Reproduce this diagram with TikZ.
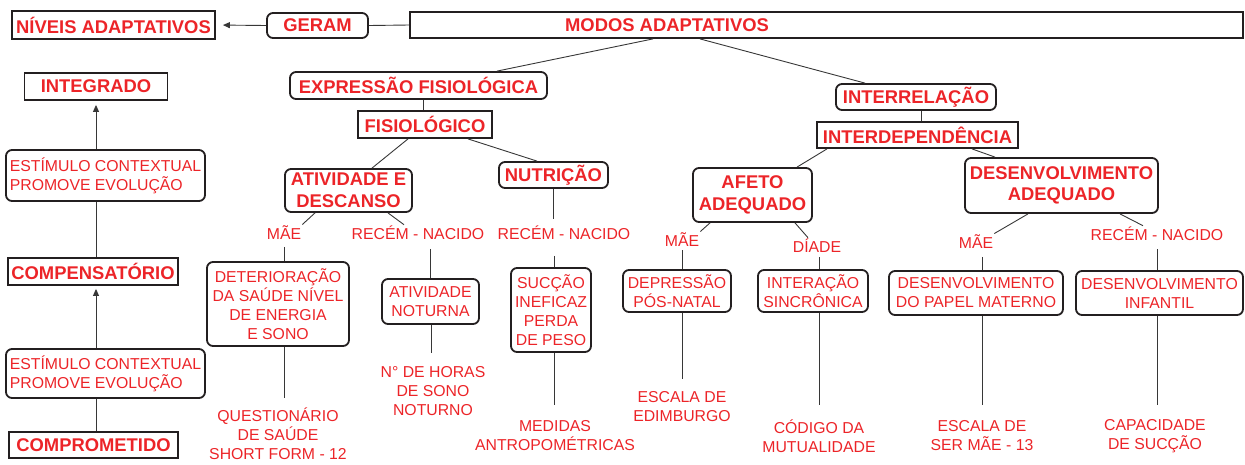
\documentclass[tikz,border=0pt]{standalone}
\usepackage{fontspec}
\setmainfont{Liberation Sans}
\usetikzlibrary{arrows.meta}
\definecolor{tred}{RGB}{236,36,40}
\definecolor{bdr}{RGB}{35,31,32}
\definecolor{lnc}{RGB}{55,55,55}
\newcommand\mybf{\fontsize{18.4}{21.5}\selectfont\bfseries}
\newcommand\mynm{\fontsize{15.8}{19}\selectfont}
\begin{document}
\begin{tikzpicture}[x=1pt,y=-1pt,
  bx/.style={draw=bdr, line width=1.8pt, inner sep=0pt, text=tred, align=center},
  sqb/.style={bx, rectangle, font=\mybf},
  rdb/.style={bx, rounded corners=6pt, font=\mybf},
  rdn/.style={bx, rounded corners=6pt, font=\mynm},
  lbl/.style={text=tred, inner sep=1pt, align=center, font=\mynm},
  con/.style={draw=lnc, line width=0.9pt},
  arr/.style={con, -{Triangle[length=7pt,width=6pt]}}]
\useasboundingbox (0,0) rectangle (1245,464);

% top row
\node[sqb, minimum width=203pt, minimum height=28pt] (niveis) at (113.5,25) {NÍVEIS ADAPTATIVOS};
\node[rdb, minimum width=101pt, minimum height=25pt] (geram) at (317.5,25.5) {GERAM};
\node[sqb, minimum width=833pt, minimum height=26pt] (modos) at (826.5,25) {};
\node[text=tred, font=\mybf, inner sep=0pt] (modost) at (667,25) {MODOS ADAPTATIVOS};
\draw[con] (modos.west) -- (geram.east);
\draw[arr, shorten >=7pt] (geram.west) -- (niveis.east);

% left column
\node[sqb, minimum width=143pt, minimum height=27pt] (integ) at (96,86.5) {INTEGRADO};
\node[rdn, align=left, minimum width=199pt, minimum height=51pt] (est1) at (105.5,175.5) {ESTÍMULO CONTEXTUAL\\PROMOVE EVOLUÇÃO};
\node[sqb, minimum width=170pt, minimum height=27pt] (comp) at (93,271.5) {COMPENSATÓRIO};
\node[rdn, align=left, minimum width=199pt, minimum height=49pt] (est2) at (105.5,373.5) {ESTÍMULO CONTEXTUAL\\PROMOVE EVOLUÇÃO};
\node[sqb, minimum width=169pt, minimum height=26pt] (compr) at (93.5,445) {COMPROMETIDO};
\draw[arr, shorten >=4pt] (est1.north -| integ.south) -- (integ.south);
\draw[con] (est1.south -| integ.south) -- (comp.north -| integ.south);
\draw[arr, shorten >=3pt] (est2.north -| integ.south) -- (comp.south -| integ.south);
\draw[con] (compr.north -| integ.south) -- (est2.south -| integ.south);

% fisiologico branch
\node[rdb, minimum width=257pt, minimum height=27pt] (expr) at (418.5,85.5) {EXPRESSÃO FISIOLÓGICA};
\node[sqb, minimum width=134pt, minimum height=27pt] (fisio) at (425,124.5) {FISIOLÓGICO};
\node[rdb, minimum width=127pt, minimum height=43pt] (ativ) at (348.5,190.5) {ATIVIDADE E\\DESCANSO};
\node[rdb, minimum width=109pt, minimum height=26pt] (nutri) at (553.5,175) {NUTRIÇÃO};
\node[lbl, anchor=base] (mae1) at (284,239.6) {MÃE};
\node[lbl, anchor=base] (rn1) at (418,239.6) {RECÉM - NACIDO};
\node[lbl, anchor=base] (rn2) at (564,239.6) {RECÉM - NACIDO};
\node[rdn, minimum width=142pt, minimum height=84pt] (deter) at (278,304) {DETERIORAÇÃO\\DA SAÚDE NÍVEL\\DE ENERGIA\\E SONO};
\node[lbl] (quest) at (278,434) {QUESTIONÁRIO\\DE SAÚDE\\SHORT FORM - 12};
\node[rdn, minimum width=97pt, minimum height=45pt] (notur) at (430.5,301.5) {ATIVIDADE\\NOTURNA};
\node[lbl] (horas) at (433,391) {N° DE HORAS\\DE SONO\\NOTURNO};
\node[rdn, minimum width=80pt, minimum height=84pt] (succ) at (551,310) {SUCÇÃO\\INEFICAZ\\PERDA\\DE PESO};
\node[lbl] (medidas) at (555,436) {MEDIDAS\\ANTROPOMÉTRICAS};
\coordinate (e1) at (284,398);
\coordinate (e2) at (431,353);
\coordinate (e3) at (554,405);

\draw[con] ([xshift=-173.5pt]modos.south) -- ([xshift=78.5pt]expr.north);
\draw[con] ([xshift=-2pt]fisio.north |- expr.south) -- ([xshift=-2pt]fisio.north);
\draw[con] ([xshift=-17pt]fisio.south) -- ([xshift=23.5pt]ativ.north);
\draw[con] ([xshift=43pt]fisio.south) -- ([xshift=-16.5pt]nutri.north);
\draw[con] ([xshift=-33.5pt]ativ.south) -- (mae1.north east);
\draw[con] ([xshift=39.5pt]ativ.south) -- ([xshift=-14pt]rn1.north);
\draw[con, shorten <=6pt] (mae1.south) -- (mae1.south |- deter.north);
\draw[con] (deter.south -| e1) -- (e1);
\draw[con, shorten <=8pt] (notur.north |- rn1.south) -- (notur.north);
\draw[con] (notur.south -| e2) -- (e2);
\draw[con, shorten >=5.6pt] (nutri.south) -- (nutri.south |- rn2.north);
\draw[con, shorten <=15pt] (e3 |- rn2.south) -- (e3 |- succ.north);
\draw[con] (succ.south -| e3) -- (e3);

% interrelacao branch
\node[rdb, minimum width=160pt, minimum height=26pt] (interrel) at (916,97) {INTERRELAÇÃO};
\node[sqb, minimum width=201pt, minimum height=26pt] (interdep) at (917.5,135) {INTERDEPENDÊNCIA};
\node[rdb, minimum width=119pt, minimum height=54pt] (afeto) at (752.5,195) {AFETO\\ADEQUADO};
\node[rdb, minimum width=193pt, minimum height=55pt] (desadeq) at (1061.5,185.5) {DESENVOLVIMENTO\\ADEQUADO};
\node[lbl, anchor=base] (mae2) at (682,246.6) {MÃE};
\node[lbl, anchor=base] (diade) at (817,252.6) {DÍADE};
\node[lbl, anchor=base] (mae3) at (976,248.6) {MÃE};
\node[lbl, anchor=base] (rn3) at (1157,240.6) {RECÉM - NACIDO};
\node[rdn, minimum width=108pt, minimum height=42pt] (depr) at (677,291) {DEPRESSÃO\\PÓS-NATAL};
\node[rdn, minimum width=110pt, minimum height=42pt] (inter) at (813,291) {INTERAÇÃO\\SINCRÔNICA};
\node[rdn, minimum width=174pt, minimum height=44pt] (papel) at (976,293) {DESENVOLVIMENTO\\DO PAPEL MATERNO};
\node[rdn, minimum width=167pt, minimum height=44pt] (infantil) at (1159.5,293) {DESENVOLVIMENTO\\INFANTIL};
\node[lbl] (edimb) at (682,406.5) {ESCALA DE\\EDIMBURGO};
\node[lbl] (codigo) at (819,436) {CÓDIGO DA\\MUTUALIDADE};
\node[lbl] (escala) at (982,436) {ESCALA DE\\SER MÃE - 13};
\node[lbl] (capac) at (1155,436) {CAPACIDADE\\DE SUCÇÃO};
\coordinate (e4) at (682,379);
\coordinate (e5) at (819,405);
\coordinate (e6) at (982,405);
\coordinate (e7) at (1157,405);

\draw[con] ([xshift=-126.5pt]modos.south) -- ([xshift=-51pt]interrel.north);
\draw[con] ([xshift=5pt]interrel.south) -- ([xshift=3.5pt]interdep.north);
\draw[con] ([xshift=-90.5pt]interdep.south) -- ([xshift=44.5pt]afeto.north);
\draw[con] ([xshift=54.5pt]interdep.south) -- ([xshift=-66.5pt]desadeq.north);
\draw[con] ([xshift=-42.5pt]afeto.south) -- (mae2.north east);
\draw[con] ([xshift=42.5pt]afeto.south) -- ([xshift=-9pt]diade.north);
\draw[con, shorten <=2.5pt] (mae2.south) -- (mae2.south |- depr.north);
\draw[con, shorten <=3.5pt] (e5 |- diade.south) -- (e5 |- inter.north);
\draw[con] (depr.south -| e4) -- (e4);
\draw[con] (inter.south -| e5) -- (e5);
\draw[con] ([xshift=-33.5pt]desadeq.south) -- (mae3.north east);
\draw[con] ([xshift=58.5pt]desadeq.south) -- ([xshift=-14pt]rn3.north);
\draw[con, shorten <=7pt] (e6 |- mae3.south) -- (e6 |- papel.north);
\draw[con, shorten <=7.5pt] (rn3.south) -- (rn3.south |- infantil.north);
\draw[con] (papel.south -| e6) -- (e6);
\draw[con] (infantil.south -| e7) -- (e7);
\end{tikzpicture}
\end{document}
